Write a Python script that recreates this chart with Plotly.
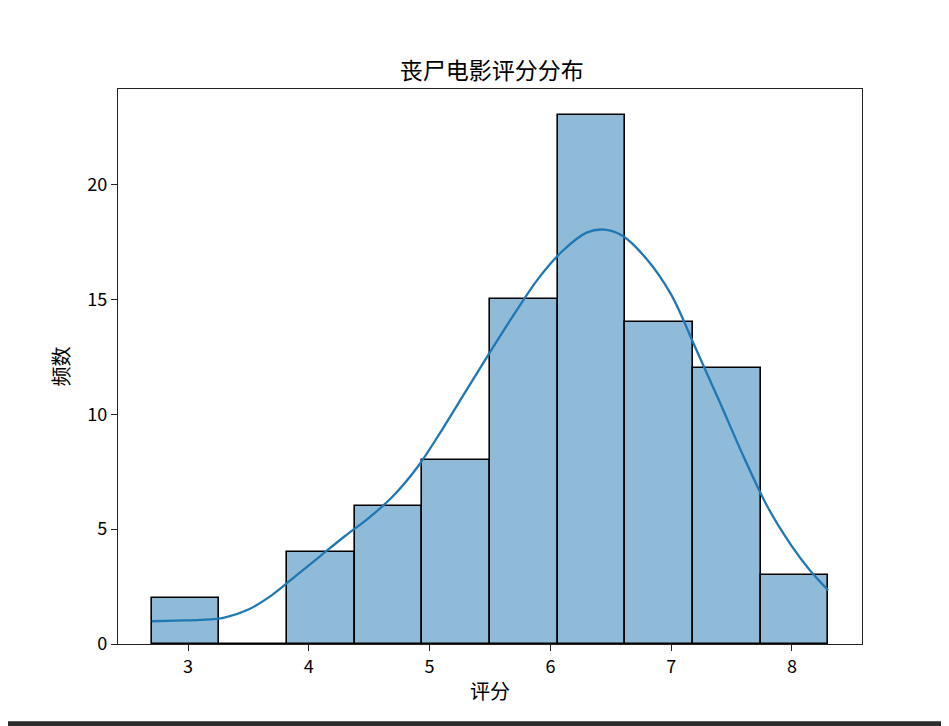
import plotly.graph_objects as go

# histogram bins (score) and counts
bin_start = 2.7
bin_width = 0.56
counts = [2, 0, 4, 6, 8, 15, 23, 14, 12, 3]

# kde curve
kde_x = [2.70, 2.90, 3.10, 3.30, 3.50, 3.70, 3.90, 4.10, 4.30, 4.50, 4.70, 4.90,
         5.10, 5.30, 5.50, 5.70, 5.90, 6.10, 6.30, 6.45, 6.60, 6.80, 7.00, 7.20,
         7.40, 7.60, 7.80, 8.00, 8.15, 8.30]
kde_y = [0.99, 1.02, 1.05, 1.15, 1.50, 2.15, 3.00, 3.85, 4.70, 5.50, 6.45, 7.70,
         9.30, 11.00, 12.70, 14.35, 15.90, 17.10, 17.90, 18.03, 17.75, 16.73, 15.20, 12.90,
         10.55, 8.15, 5.95, 4.25, 3.20, 2.34]

x_ticks = [3, 4, 5, 6, 7, 8]
y_ticks = [0, 5, 10, 15, 20]

centers = [bin_start + bin_width * (i + 0.5) for i in range(len(counts))]

font = "Microsoft YaHei, Noto Sans CJK SC, sans-serif"

fig = go.Figure()

fig.add_trace(go.Bar(
    x=centers,
    y=counts,
    width=bin_width,
    marker=dict(color="#8fbbd9", line=dict(color="black", width=1.6)),
    hoverinfo="x+y",
))

fig.add_trace(go.Scatter(
    x=kde_x,
    y=kde_y,
    mode="lines",
    line=dict(color="#1f77b4", width=2.3, shape="spline", smoothing=1),
))

axis_common = dict(
    showline=True,
    linecolor="#222",
    linewidth=1.4,
    mirror=True,
    ticks="outside",
    ticklen=6,
    tickwidth=1.3,
    tickcolor="#222",
    showgrid=False,
    zeroline=False,
    tickfont=dict(size=18, color="black", family=font),
)

fig.update_layout(
    width=941,
    height=718,
    paper_bgcolor="white",
    plot_bgcolor="white",
    showlegend=False,
    bargap=0,
    margin=dict(l=110, r=87, t=81, b=82),
    title=dict(text="丧尸电影评分分布", x=0.514, xanchor="center", y=0.913,
               yanchor="middle", font=dict(size=23, color="black", family=font)),
    xaxis=dict(range=[2.42, 8.58], tickvals=x_ticks,
               title=dict(text="评分", font=dict(size=20, color="black", family=font),
                          standoff=8),
               **axis_common),
    yaxis=dict(range=[0, 24.15], tickvals=y_ticks,
               title=dict(text="频数", font=dict(size=20, color="black", family=font),
                          standoff=12),
               **axis_common),
    shapes=[
        # dark window edge at the bottom of the screenshot
        dict(type="rect", xref="paper", yref="paper", x0=-0.16, x1=1.12,
             y0=-0.16, y1=-0.139, fillcolor="#2b2b2b", line=dict(width=0), layer="above"),
    ],
)

fig.write_html("out.html")
